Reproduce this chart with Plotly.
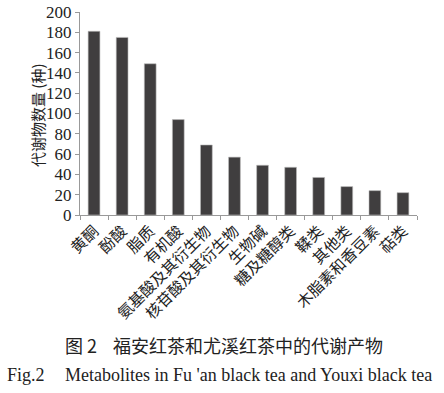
import plotly.graph_objects as go

categories = ["黄酮", "酚酸", "脂质", "有机酸", "氨基酸及其衍生物", "核苷酸及其衍生物",
              "生物碱", "糖及糖醇类", "鞣类", "其他类", "木脂素和香豆素", "萜类"]
counts = [181, 175, 149, 94, 69, 57, 49, 47, 37, 28, 24, 22]
y_ticks = [0, 20, 40, 60, 80, 100, 120, 140, 160, 180, 200]

font_fam = "Liberation Serif, Times New Roman, Noto Sans CJK SC, serif"
cjk_fam = "Noto Sans CJK SC, serif"

FW, FH = 444, 393
PX0, PY1 = 80, 215          # plot left / bottom in pixels
PW, PH = 337, 203
L, T = PX0, PY1 - PH
R, B = FW - L - PW, FH - T - PH


def px(x):
    return (x - PX0) / PW


def py(y):
    return (PY1 - y) / PH


fig = go.Figure(go.Bar(
    x=categories, y=counts,
    marker=dict(color="#403e3f", line=dict(color="#bdbdbd", width=0.6)),
    width=0.42,
))

fig.update_layout(
    width=FW, height=FH,
    margin=dict(l=L, r=R, t=T, b=B),
    paper_bgcolor="white", plot_bgcolor="white",
    showlegend=False,
    font=dict(family=font_fam, color="#222222", size=14),
    xaxis=dict(
        type="category", tickangle=-45, automargin=False,
        showline=True, linecolor="#999999", linewidth=1,
        ticks="outside", ticklen=4, tickcolor="#999999",
        tickson="boundaries", showgrid=False, ticklabeloverflow="allow",
        tickfont=dict(family=cjk_fam, size=15.5, color="#222222"),
    ),
    yaxis=dict(
        range=[0, 200], tickvals=y_ticks, automargin=False,
        showline=True, linecolor="#999999", linewidth=1,
        ticks="outside", ticklen=4, tickcolor="#999999",
        showgrid=False, zeroline=False, ticklabeloverflow="allow",
        tickfont=dict(family=font_fam, size=17, color="#222222"),
    ),
    annotations=[
        dict(text="代谢物数量 (种)", xref="paper", yref="paper",
             x=px(38), y=py(115), xanchor="center", yanchor="middle", textangle=-90,
             showarrow=False, font=dict(family=cjk_fam, size=15, color="#222222")),
        dict(text="图 2", xref="paper", yref="paper",
             x=px(63), y=py(345), xanchor="left", yanchor="middle",
             showarrow=False, font=dict(family=cjk_fam, size=18, color="#222222")),
        dict(text="福安红茶和尤溪红茶中的代谢产物", xref="paper", yref="paper",
             x=px(111), y=py(345), xanchor="left", yanchor="middle",
             showarrow=False, font=dict(family=cjk_fam, size=18, color="#222222")),
        dict(text="Fig.2", xref="paper", yref="paper",
             x=px(5), y=py(375), xanchor="left", yanchor="middle",
             showarrow=False, font=dict(family=font_fam, size=18, color="#222222")),
        dict(text="Metabolites in Fu 'an black tea and Youxi black tea", xref="paper", yref="paper",
             x=px(63), y=py(375), xanchor="left", yanchor="middle",
             showarrow=False, font=dict(family=font_fam, size=18, color="#222222")),
    ],
)

fig.write_html("out.html", config={"displayModeBar": False},
               post_script="document.body.style.margin='0px';")
